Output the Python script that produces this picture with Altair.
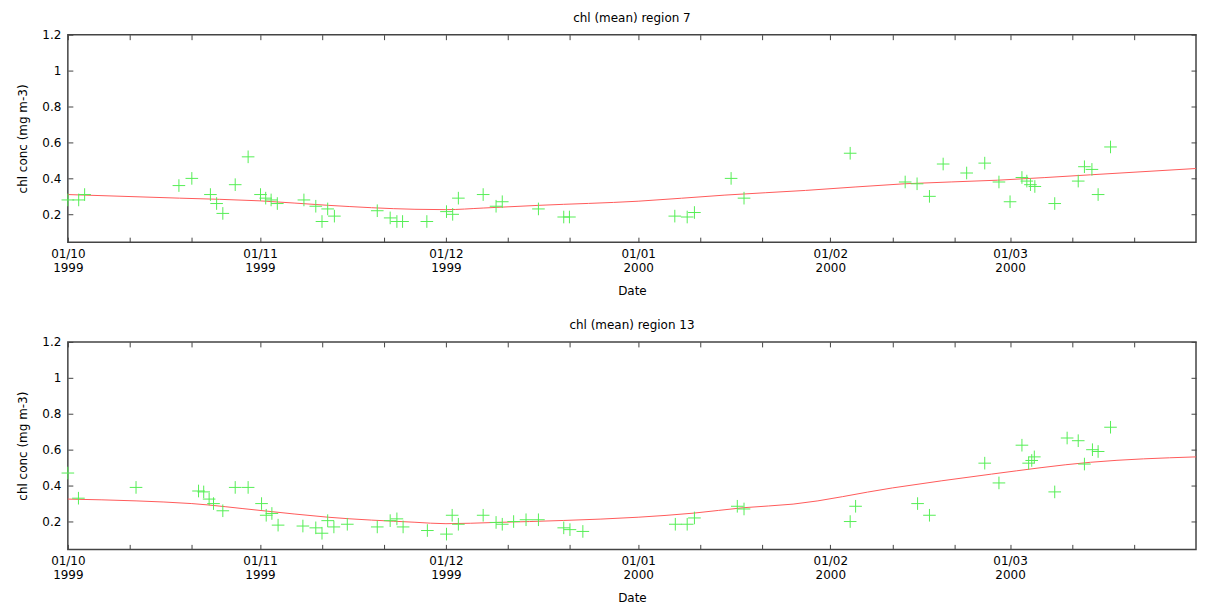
import altair as alt
import pandas as pd

FONT = "DejaVu Sans"
GREEN = "#55ee55"
RED = "#ff5a5a"
AXIS_C = "#444444"

# ---- region 7 ----
r7_dates = [
    "1999-10-01T00:00", "1999-10-02T18:00", "1999-10-03T17:00", "1999-10-18T22:00",
    "1999-10-21T00:00", "1999-10-24T00:00", "1999-10-25T00:00", "1999-10-26T00:00",
    "1999-10-28T00:00", "1999-10-30T02:00", "1999-11-01T02:00", "1999-11-01T22:00",
    "1999-11-02T19:00", "1999-11-03T19:00", "1999-11-08T02:00", "1999-11-10T00:00",
    "1999-11-11T00:00", "1999-11-11T22:00", "1999-11-13T00:00", "1999-11-19T22:00",
    "1999-11-22T00:00", "1999-11-23T02:00", "1999-11-24T00:00", "1999-11-27T22:00",
    "1999-12-01T02:00", "1999-12-02T02:00", "1999-12-03T00:00", "1999-12-07T00:00",
    "1999-12-09T02:00", "1999-12-10T02:00", "1999-12-15T22:00", "1999-12-20T00:00",
    "1999-12-20T22:00", "2000-01-06T22:00", "2000-01-08T22:00", "2000-01-10T02:00",
    "2000-01-16T00:00", "2000-01-18T02:00", "2000-02-04T05:00", "2000-02-13T02:00",
    "2000-02-15T00:00", "2000-02-17T00:00", "2000-02-19T05:00", "2000-02-23T00:00",
    "2000-02-25T22:00", "2000-02-28T05:00", "2000-03-01T00:00", "2000-03-02T22:00",
    "2000-03-03T17:00", "2000-03-04T07:00", "2000-03-05T00:00", "2000-03-08T05:00",
    "2000-03-12T00:00", "2000-03-13T00:00", "2000-03-14T05:00", "2000-03-15T05:00",
    "2000-03-17T05:00",
]
r7_values = [
    0.28, 0.28, 0.31, 0.36, 0.40, 0.31, 0.26, 0.205, 0.365, 0.52,
    0.31, 0.29, 0.28, 0.26, 0.28, 0.245, 0.16, 0.23, 0.19, 0.22,
    0.18, 0.16, 0.16, 0.16, 0.215, 0.20, 0.29, 0.31, 0.245, 0.27,
    0.23, 0.185, 0.185, 0.19, 0.185, 0.21, 0.40, 0.29, 0.54, 0.38,
    0.37, 0.30, 0.48, 0.43, 0.485, 0.38, 0.27, 0.405, 0.385, 0.365,
    0.355, 0.26, 0.385, 0.465, 0.45, 0.31, 0.575,
]
r7_fit_dates = [
    "1999-10-01T00:00", "1999-10-19T00:00", "1999-11-01T00:00", "1999-11-12T00:00",
    "1999-11-26T00:00", "1999-12-01T00:00", "1999-12-07T00:00", "1999-12-16T00:00",
    "2000-01-01T00:00", "2000-01-15T00:00", "2000-01-28T00:00", "2000-02-13T00:00",
    "2000-02-28T00:00", "2000-03-14T00:00", "2000-03-31T00:00",
]
r7_fit_values = [
    0.31, 0.29, 0.275, 0.25, 0.228, 0.226, 0.235, 0.25,
    0.273, 0.307, 0.333, 0.37, 0.39, 0.42, 0.455,
]

# ---- region 13 ----
r13_dates = [
    "1999-10-01T00:00", "1999-10-02T17:00", "1999-10-12T00:00", "1999-10-22T02:00",
    "1999-10-22T22:00", "1999-10-23T19:00", "1999-10-24T12:00", "1999-10-26T00:00",
    "1999-10-28T00:00", "1999-10-30T02:00", "1999-11-01T06:00", "1999-11-02T00:00",
    "1999-11-02T22:00", "1999-11-03T22:00", "1999-11-07T22:00", "1999-11-10T00:00",
    "1999-11-11T00:00", "1999-11-11T22:00", "1999-11-12T22:00", "1999-11-15T02:00",
    "1999-11-19T22:00", "1999-11-22T00:00", "1999-11-23T02:00", "1999-11-24T02:00",
    "1999-11-28T00:00", "1999-12-01T02:00", "1999-12-02T00:00", "1999-12-03T00:00",
    "1999-12-07T00:00", "1999-12-09T02:00", "1999-12-10T02:00", "1999-12-11T22:00",
    "1999-12-13T22:00", "1999-12-15T22:00", "1999-12-20T00:00", "1999-12-21T00:00",
    "1999-12-23T02:00", "2000-01-07T00:00", "2000-01-08T22:00", "2000-01-10T02:00",
    "2000-01-17T00:00", "2000-01-18T02:00", "2000-02-04T05:00", "2000-02-05T02:00",
    "2000-02-15T02:00", "2000-02-17T00:00", "2000-02-25T22:00", "2000-02-28T05:00",
    "2000-03-02T22:00", "2000-03-04T00:00", "2000-03-04T12:00", "2000-03-04T22:00",
    "2000-03-08T05:00", "2000-03-10T05:00", "2000-03-12T00:00", "2000-03-13T00:00",
    "2000-03-14T07:00", "2000-03-15T05:00", "2000-03-17T05:00",
]
r13_values = [
    0.47, 0.33, 0.39, 0.37, 0.365, 0.325, 0.30, 0.26, 0.39, 0.39,
    0.30, 0.235, 0.245, 0.18, 0.175, 0.165, 0.135, 0.205, 0.17, 0.185,
    0.17, 0.205, 0.215, 0.17, 0.15, 0.13, 0.235, 0.185, 0.235, 0.195,
    0.185, 0.20, 0.21, 0.21, 0.165, 0.155, 0.145, 0.185, 0.185, 0.22,
    0.285, 0.27, 0.20, 0.285, 0.30, 0.235, 0.525, 0.415, 0.625, 0.525,
    0.54, 0.56, 0.365, 0.665, 0.65, 0.52, 0.60, 0.59, 0.725,
]
r13_fit_dates = [
    "1999-10-01T00:00", "1999-10-12T00:00", "1999-10-21T00:00", "1999-11-01T00:00",
    "1999-11-12T00:00", "1999-11-26T00:00", "1999-12-01T00:00", "1999-12-09T00:00",
    "1999-12-20T00:00", "2000-01-01T00:00", "2000-01-10T00:00", "2000-01-18T00:00",
    "2000-01-26T00:00", "2000-02-11T00:00", "2000-02-27T00:00", "2000-03-14T00:00",
    "2000-03-31T00:00",
]
r13_fit_values = [
    0.325, 0.315, 0.30, 0.262, 0.224, 0.196, 0.188, 0.195,
    0.206, 0.224, 0.247, 0.277, 0.297, 0.387, 0.464, 0.53, 0.56,
]

y_ticks = [0.2, 0.4, 0.6, 0.8, 1.0, 1.2]
x_ticks = []
for (yr, mo) in [(1999, 10), (1999, 11), (1999, 12), (2000, 1), (2000, 2), (2000, 3)]:
    for d in (1, 11, 21):
        x_ticks.append(alt.DateTime(year=yr, month=mo, date=d))

x_domain = [alt.DateTime(year=1999, month=10, date=1), alt.DateTime(year=2000, month=3, date=31)]
y_domain = [0.045, 1.2]

LABEL_EXPR = ("date(datum.value) == 1 ? [timeFormat(datum.value, '%d/%m'), "
              "timeFormat(datum.value, '%Y')] : ''")

W, H = 1131, 208
FS = 12


def panel(dates, values, fit_dates, fit_values, title):
    pts = pd.DataFrame({"date": dates, "conc": values})
    fit = pd.DataFrame({"date": fit_dates, "conc": fit_values})
    xs = alt.Scale(domain=x_domain, nice=False)
    ys = alt.Scale(domain=y_domain, nice=False, zero=False)

    line = alt.Chart(fit).mark_line(color=RED, strokeWidth=1, interpolate="monotone").encode(
        x=alt.X("date:T", scale=xs, axis=alt.Axis(
            orient="top", values=x_ticks, labels=False, title=None, offset=-5,
            tickSize=5, domain=False, grid=False, tickColor=AXIS_C)),
        y=alt.Y("conc:Q", scale=ys, axis=alt.Axis(
            orient="right", values=y_ticks, labels=False, title=None, offset=-5,
            tickSize=5, domain=False, grid=False, tickColor=AXIS_C)),
    )
    points = alt.Chart(pts).mark_point(
        shape="M-1,0L1,0M0,-1L0,1", size=160, filled=False, color=GREEN,
        strokeWidth=1, opacity=1,
    ).encode(
        x=alt.X("date:T", scale=xs, axis=alt.Axis(
            orient="bottom", values=x_ticks, labelExpr=LABEL_EXPR, title="Date",
            offset=-5, tickSize=5, domain=False, grid=False, labelPadding=6,
            labelLineHeight=14, labelOverlap=False, labelFlush=False, labelAngle=0,
            titlePadding=12, tickColor=AXIS_C)),
        y=alt.Y("conc:Q", scale=ys, axis=alt.Axis(
            orient="left", values=y_ticks, format="~g", title="chl conc (mg m-3)",
            offset=-5, tickSize=5, domain=False, grid=False, labelPadding=7,
            titlePadding=12, tickColor=AXIS_C)),
    )
    return alt.layer(line, points).resolve_axis(x="independent", y="independent").properties(
        width=W, height=H,
        title=alt.Title(title, fontSize=FS, font=FONT, fontWeight="normal", offset=4),
    )


top = panel(r7_dates, r7_values, r7_fit_dates, r7_fit_values, "chl (mean) region 7")
bottom = panel(r13_dates, r13_values, r13_fit_dates, r13_fit_values, "chl (mean) region 13")

chart = alt.vconcat(top, bottom, spacing=21).properties(
    padding={"left": 8, "top": 2, "right": 0, "bottom": 0}
).configure_view(
    stroke=AXIS_C, strokeWidth=1.5
).configure_axis(
    labelFont=FONT, titleFont=FONT, labelFontSize=FS, titleFontSize=FS,
    titleFontWeight="normal", labelColor="black", titleColor="black",
).configure_title(color="black")

chart.save("out.html", embed_options={"renderer": "svg", "actions": False})
